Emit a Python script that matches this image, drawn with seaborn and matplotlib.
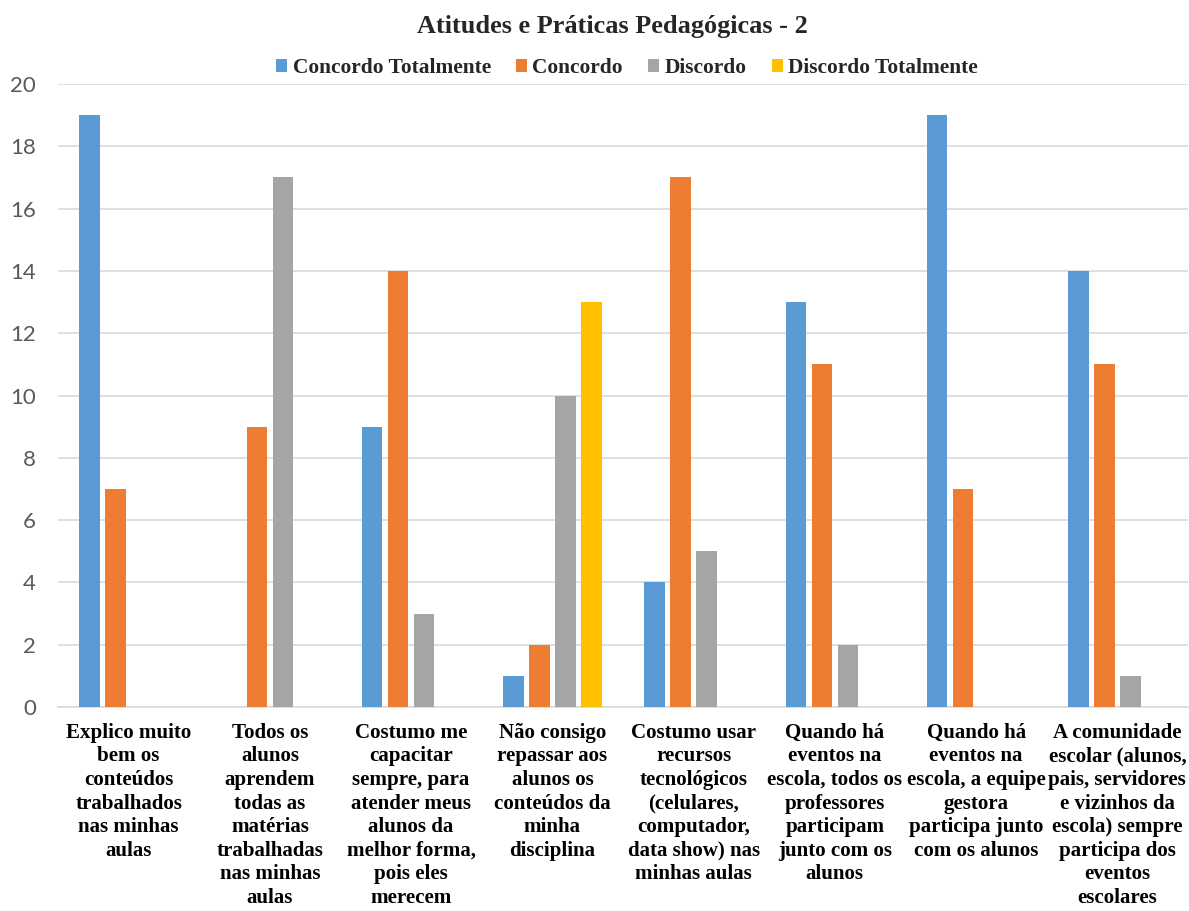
import numpy as np
import pandas as pd
import matplotlib
matplotlib.use("Agg")
import matplotlib.pyplot as plt
from matplotlib.patches import Patch
import seaborn as sns

categories = [
    "Explico muito\nbem os\nconteúdos\ntrabalhados\nnas minhas\naulas",
    "Todos os\nalunos\naprendem\ntodas as\nmatérias\ntrabalhadas\nnas minhas\naulas",
    "Costumo me\ncapacitar\nsempre, para\natender meus\nalunos da\nmelhor forma,\npois eles\nmerecem",
    "Não consigo\nrepassar aos\nalunos os\nconteúdos da\nminha\ndisciplina",
    "Costumo usar\nrecursos\ntecnológicos\n(celulares,\ncomputador,\ndata show) nas\nminhas aulas",
    "Quando há\neventos na\nescola, todos os\nprofessores\nparticipam\njunto com os\nalunos",
    "Quando há\neventos na\nescola, a equipe\ngestora\nparticipa junto\ncom os alunos",
    "A comunidade\nescolar (alunos,\npais, servidores\ne vizinhos da\nescola) sempre\nparticipa dos\neventos\nescolares",
]
series = ["Concordo Totalmente", "Concordo", "Discordo", "Discordo Totalmente"]
concordo_totalmente = [19, 0, 9, 1, 4, 13, 19, 14]
concordo = [7, 9, 14, 2, 17, 11, 7, 11]
discordo = [0, 17, 3, 10, 5, 2, 0, 1]
discordo_totalmente = [0, 0, 0, 13, 0, 0, 0, 0]
colors = ["#5B9BD5", "#ED7D31", "#A5A5A5", "#FFC000"]

values = [concordo_totalmente, concordo, discordo, discordo_totalmente]
rows = []
for s, vals in zip(series, values):
    for i, v in enumerate(vals):
        rows.append({"idx": i, "serie": s, "valor": v})
df = pd.DataFrame(rows)

sns.set_theme(style="white")
plt.rcParams["font.family"] = ["Liberation Serif", "DejaVu Serif"]

W, H = 1189, 911
fig = plt.figure(figsize=(W / 100, H / 100), dpi=100)
ax = fig.add_axes([58 / W, 1 - 707 / H, 1130 / W, (707 - 84) / H])

sns.barplot(data=df, x="idx", y="valor", hue="serie", hue_order=series,
            palette=colors, saturation=1, width=0.736, gap=0.21, linewidth=0,
            errorbar=None, ax=ax, legend=False, zorder=3)

ax.set_xlim(-0.5, 7.5)
ax.set_ylim(0, 20)
ax.set_yticks(np.arange(0, 21, 2))
ax.yaxis.grid(True, color="#D9D9D9", linewidth=1.2, zorder=0)
ax.set_axisbelow(True)
for sp in ["top", "right", "left"]:
    ax.spines[sp].set_visible(False)
ax.spines["bottom"].set_color("#D9D9D9")
ax.spines["bottom"].set_linewidth(1.2)
ax.tick_params(axis="both", length=0)
ax.set_xlabel("")
ax.set_ylabel("")

for lbl in ax.get_yticklabels():
    lbl.set_family(["Lato", "DejaVu Sans"])
    lbl.set_fontsize(16)
    lbl.set_color("#595959")
ax.tick_params(axis="y", pad=16)

ax.set_xticks(range(len(categories)))
ax.set_xticklabels(categories, fontsize=15.1, fontweight="bold",
                   linespacing=1.235, color="black", va="top", ha="center")
ax.tick_params(axis="x", pad=11.5)

fig.text(612 / W, 1 - 27 / H, "Atitudes e Práticas Pedagógicas - 2",
         ha="center", va="center", fontsize=18.9, fontweight="bold")

handles = [Patch(facecolor=c, edgecolor="none") for c in colors]
fig.legend(handles, series, loc="center", bbox_to_anchor=(627 / W, 1 - 68 / H),
           ncol=4, frameon=False, prop={"weight": "bold", "size": 15.4},
           handlelength=0.52, handleheight=0.52, handletextpad=0.25,
           columnspacing=1.17, borderpad=0, borderaxespad=0)

fig.savefig("out.png", dpi=100)
